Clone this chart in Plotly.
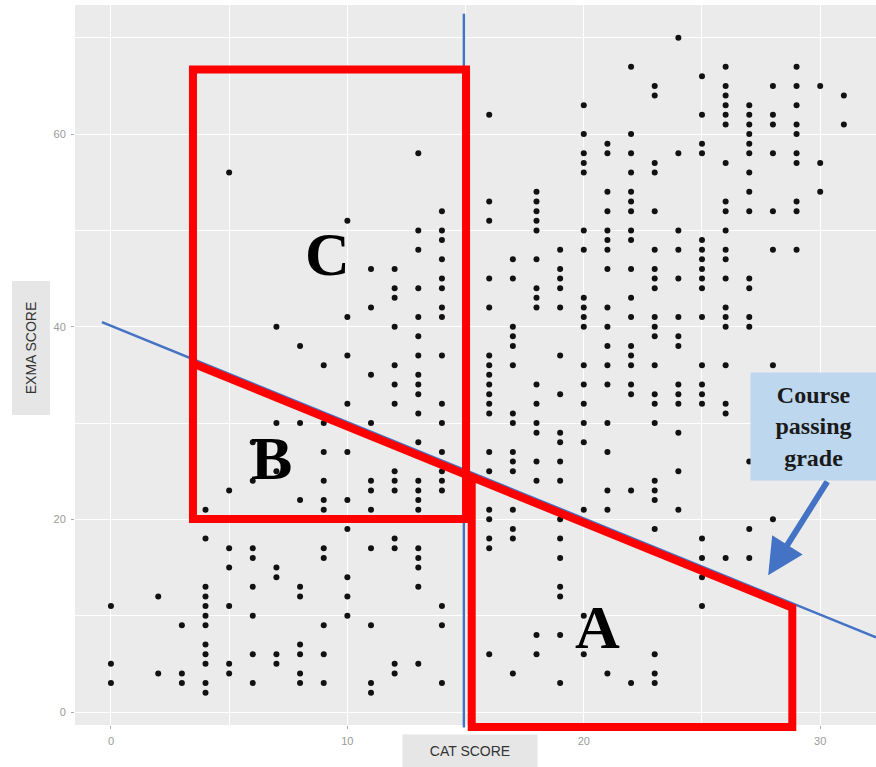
import plotly.graph_objects as go

# CAT score (x) and EXMA score (y) for each student
cat_score = (
    [0, 0, 0]
    + [2, 2]
    + [3, 3, 3]
    + [4] * 12
    + [5] * 7
    + [6] * 8
    + [7] * 7
    + [8] * 9
    + [9] * 11
    + [10] * 10
    + [11] * 11
    + [12] * 14
    + [13] * 21
    + [14] * 18
    + [16] * 19
    + [17] * 15
    + [18] * 17
    + [19] * 18
    + [20] * 19
    + [21] * 18
    + [22] * 19
    + [23] * 23
    + [24] * 14
    + [25] * 19
    + [26] * 20
    + [27] * 16
    + [28] * 8
    + [29] * 10
    + [30] * 3
    + [31] * 2
)
exma_score = [
    11, 5, 3,
    12, 4,
    9, 4, 3,
    21, 18, 13, 12, 11, 10, 9, 7, 6, 5, 3, 2,
    56, 23, 17, 15, 11, 5, 4,
    28, 24, 17, 16, 13, 10, 6, 3,
    40, 30, 25, 15, 14, 6, 5,
    38, 30, 22, 13, 12, 7, 6, 4, 3,
    36, 30, 27, 24, 22, 21, 17, 16, 9, 6, 3,
    51, 41, 37, 32, 27, 22, 19, 14, 12, 10,
    46, 42, 35, 30, 24, 23, 21, 17, 9, 3, 2,
    46, 44, 43, 40, 36, 34, 32, 25, 24, 23, 18, 17, 5, 4,
    58, 50, 48, 44, 41, 39, 37, 35, 34, 33, 31, 28, 24, 23, 22, 21, 17, 16, 15, 13, 5,
    52, 50, 49, 47, 45, 44, 42, 41, 37, 32, 30, 27, 25, 24, 23, 11, 9, 3,
    62, 53, 51, 45, 42, 37, 36, 35, 34, 33, 32, 31, 27, 25, 21, 20, 18, 17, 6,
    47, 45, 40, 39, 38, 36, 31, 30, 27, 26, 25, 21, 19, 18, 4,
    54, 53, 52, 51, 50, 47, 44, 43, 42, 34, 32, 30, 29, 26, 24, 8, 6,
    48, 46, 45, 44, 42, 37, 33, 29, 28, 26, 24, 20, 18, 16, 13, 12, 8, 3,
    63, 60, 58, 57, 56, 50, 48, 43, 42, 41, 40, 36, 34, 32, 30, 28, 21, 10, 6,
    59, 58, 54, 52, 50, 49, 48, 46, 42, 40, 38, 36, 34, 30, 27, 23, 21, 4,
    67, 60, 58, 56, 54, 53, 52, 50, 49, 46, 43, 41, 38, 37, 36, 34, 33, 23, 3,
    65, 64, 57, 56, 52, 48, 46, 45, 44, 41, 40, 39, 36, 33, 32, 30, 24, 23, 22, 19, 6, 4, 3,
    70, 58, 50, 48, 45, 41, 39, 38, 34, 33, 32, 29, 25, 21,
    66, 62, 59, 58, 49, 48, 47, 46, 45, 44, 41, 36, 34, 33, 32, 18, 16, 14, 11,
    67, 65, 64, 63, 62, 61, 57, 53, 52, 50, 48, 47, 45, 42, 41, 40, 36, 32, 31, 16,
    63, 62, 61, 60, 59, 58, 56, 54, 52, 45, 44, 41, 40, 26, 19, 16,
    65, 62, 61, 58, 52, 48, 36, 20,
    67, 65, 63, 61, 60, 58, 57, 53, 52, 48,
    65, 57, 54,
    64, 61,
]

x_ticks = [0, 10, 20, 30]
y_ticks = [0, 20, 40, 60]
x_minor = [5, 15, 25]
y_minor = [10, 30, 50, 70]

# course passing grade line: EXMA = intercept + slope * CAT
pass_intercept = 40.1
pass_slope = -1.0
cat_cutoff = 14.93

X_RANGE = [-1.52, 32.36]
Y_RANGE = [-1.35, 73.4]

RED = "#FF0000"
BLUE = "#4472C4"


def ypap(v):
    return (v - Y_RANGE[0]) / (Y_RANGE[1] - Y_RANGE[0])


def path(points, close=False):
    s = "M " + " L ".join(f"{x},{ypap(y)}" for x, y in points)
    return s + (" Z" if close else "")


fig = go.Figure()

fig.add_trace(go.Scatter(
    x=cat_score, y=exma_score, mode="markers",
    marker=dict(color="#111111", size=6, line=dict(width=0)),
    hoverinfo="skip", showlegend=False,
))

shapes = []
# passing-grade line and CAT cutoff
line_x0, line_x1 = -0.38, X_RANGE[1]
shapes.append(dict(type="path", xref="x", yref="paper",
                   path=path([(line_x0, pass_intercept + pass_slope * line_x0),
                              (line_x1, pass_intercept + pass_slope * line_x1)]),
                   line=dict(color=BLUE, width=2.5)))
shapes.append(dict(type="path", xref="x", yref="paper",
                   path=path([(cat_cutoff, -1.6), (cat_cutoff, 72.5)]),
                   line=dict(color=BLUE, width=2.5)))

# region outlines
c_left, c_right, c_bottom, c_top = 3.47, 15.02, 20.04, 66.7
red_icpt = 39.65
shapes.append(dict(type="path", xref="x", yref="paper",
                   path=path([(c_left, c_bottom), (c_left, c_top), (c_right, c_top),
                              (c_right, c_bottom)], close=True),
                   line=dict(color=RED, width=8)))
shapes.append(dict(type="path", xref="x", yref="paper",
                   path=path([(c_left, red_icpt - c_left), (c_right, red_icpt - c_right)]),
                   line=dict(color=RED, width=8)))
a_left, a_right, a_bottom = 15.26, 28.82, -1.56
shapes.append(dict(type="path", xref="x", yref="paper",
                   path=path([(a_left, red_icpt - a_left), (a_right, red_icpt - a_right),
                              (a_right, a_bottom), (a_left, a_bottom)], close=True),
                   line=dict(color=RED, width=8)))

letter_font = dict(family="Liberation Serif", size=62, color="black")
annotations = [
    dict(x=9.14, y=47.6, xref="x", yref="y", text="<b>C</b>", showarrow=False, font=letter_font),
    dict(x=6.81, y=26.4, xref="x", yref="y", text="<b>B</b>", showarrow=False, font=letter_font),
    dict(x=20.6, y=8.8, xref="x", yref="y", text="<b>A</b>", showarrow=False, font=letter_font),
    dict(x=27.8, y=14.2, xref="x", yref="y", text="", showarrow=True,
         ax=60, ay=-95, arrowhead=2, arrowsize=1.2, arrowwidth=6, arrowcolor=BLUE),
    dict(x=0.922, y=0.4146, xref="paper", yref="paper", xanchor="center", yanchor="middle",
         text="<b>Course<br>passing<br>grade</b>", showarrow=False,
         font=dict(family="Liberation Serif", size=24, color="#1a1a1a"),
         bgcolor="#BDD7EE", width=121, height=103, borderpad=2, align="center"),
    dict(x=0.493, y=-0.0361, xref="paper", yref="paper", xanchor="center", yanchor="middle",
         text="CAT SCORE",
         showarrow=False, font=dict(family="Liberation Sans", size=14, color="#333333"),
         bgcolor="#E6E6E6", width=130, height=28, borderpad=2),
    dict(x=-0.0556, y=0.5236, xref="paper", yref="paper", xanchor="center", yanchor="middle",
         text="EXMA SCORE", showarrow=False, textangle=-90,
         font=dict(family="Liberation Sans", size=14, color="#333333"),
         bgcolor="#E6E6E6", width=129, height=33, borderpad=2),
]

axis_common = dict(
    showgrid=True, gridcolor="white", gridwidth=1.3,
    zeroline=False, showline=False,
    ticks="outside", ticklen=3, tickcolor="#aaaaaa", tickwidth=1,
    ticklabelstandoff=3,
    tickfont=dict(family="Liberation Sans", size=11, color="#9a9a9a"),
)

fig.update_layout(
    width=876, height=767, autosize=False,
    margin=dict(l=75, r=0, t=5, b=42),
    plot_bgcolor="#EBEBEB", paper_bgcolor="white",
    showlegend=False,
    shapes=shapes, annotations=annotations,
    xaxis=dict(range=X_RANGE, tickvals=x_ticks,
               minor=dict(tickvals=x_minor, showgrid=True, gridcolor="white",
                          gridwidth=0.6, ticks=""),
               **axis_common),
    yaxis=dict(range=Y_RANGE, tickvals=y_ticks,
               minor=dict(tickvals=y_minor, showgrid=True, gridcolor="white",
                          gridwidth=0.6, ticks=""),
               **axis_common),
)

fig.write_html("out.html")
